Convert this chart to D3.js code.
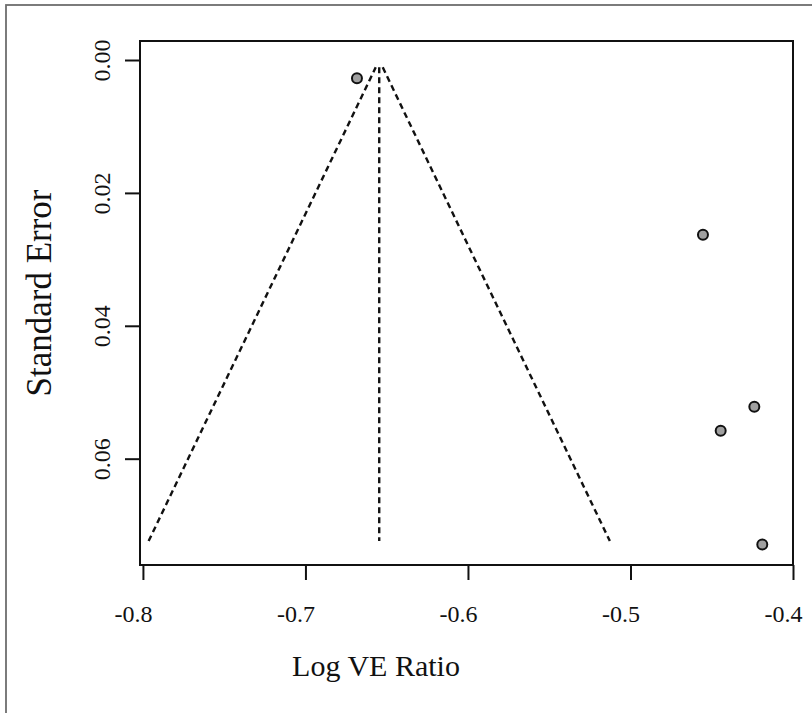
<!DOCTYPE html>
<html>
<head>
<meta charset="utf-8">
<script src="https://cdn.jsdelivr.net/npm/d3@7"></script>
<style>
    body { margin: 0; background: #fff; }
</style>
</head>
<body>
<div id="funnel-chart"></div>
<script>
// study estimates
const logVERatio = [-0.6683, -0.4554, -0.4238, -0.4445, -0.4189];
const standardError = [0.00275, 0.0263, 0.0522, 0.0558, 0.0729];

// pooled estimate and the se span the pseudo-confidence funnel covers
const pooledEstimate = -0.6546;
const funnelSE = [0.0011, 0.0724];
const zCrit = 1.96;

const xTicks = [-0.8, -0.7, -0.6, -0.5, -0.4];
const yTicks = [0, 0.02, 0.04, 0.06];

const width = 812, height = 713;
const box = { left: 140, right: 793, top: 41, bottom: 565 };
const serif = "'Liberation Serif', 'Times New Roman', serif";

const svg = d3.select("#funnel-chart")
    .append("svg")
    .attr("width", width)
    .attr("height", height);

// outer frame of the figure
svg.append("rect")
    .attr("x", 6)
    .attr("y", 5)
    .attr("width", 900)
    .attr("height", 800)
    .attr("fill", "none")
    .attr("stroke", "#6e6e6e")
    .attr("stroke-width", 1.8);

const xScale = d3.scaleLinear()
    .domain([-0.8018, -0.4])
    .range([box.left, box.right]);

const yScale = d3.scaleLinear()
    .domain([-0.00286, 0.076])
    .range([box.top, box.bottom]);

// funnel lines
const funnel = [
    [[pooledEstimate - zCrit * funnelSE[1], funnelSE[1]], [pooledEstimate - zCrit * funnelSE[0], funnelSE[0]]],
    [[pooledEstimate + zCrit * funnelSE[0], funnelSE[0]], [pooledEstimate + zCrit * funnelSE[1], funnelSE[1]]],
    [[pooledEstimate, funnelSE[0]], [pooledEstimate, funnelSE[1]]]
];

const line = d3.line()
    .x(d => xScale(d[0]))
    .y(d => yScale(d[1]));

svg.selectAll("path.funnel")
    .data(funnel)
    .enter().append("path")
    .attr("class", "funnel")
    .attr("d", line)
    .attr("fill", "none")
    .attr("stroke", "#111")
    .attr("stroke-width", 2.4)
    .attr("stroke-dasharray", "6,4");

// study points
svg.selectAll("circle")
    .data(logVERatio)
    .enter().append("circle")
    .attr("cx", d => xScale(d))
    .attr("cy", (d, i) => yScale(standardError[i]))
    .attr("r", 5)
    .attr("fill", "#a0a0a0")
    .attr("stroke", "#111")
    .attr("stroke-width", 2);

// plot box
svg.append("rect")
    .attr("x", box.left)
    .attr("y", box.top)
    .attr("width", box.right - box.left)
    .attr("height", box.bottom - box.top)
    .attr("fill", "none")
    .attr("stroke", "#111")
    .attr("stroke-width", 2);

const xAxis = svg.append("g")
    .attr("transform", `translate(0,${box.bottom})`)
    .call(d3.axisBottom(xScale)
        .tickValues(xTicks)
        .tickSize(15)
        .tickFormat(d => d.toFixed(1)));

xAxis.select(".domain").remove();
xAxis.selectAll("line").attr("stroke", "#111").attr("stroke-width", 2);
xAxis.selectAll("text")
    .attr("x", -10)
    .attr("y", 57)
    .attr("dy", null)
    .style("font-size", "24px")
    .style("font-family", serif)
    .style("fill", "#111");

const yAxis = svg.append("g")
    .attr("transform", `translate(${box.left},0)`)
    .call(d3.axisLeft(yScale)
        .tickValues(yTicks)
        .tickSize(15)
        .tickFormat(d => d.toFixed(2)));

yAxis.select(".domain").remove();
yAxis.selectAll("line").attr("stroke", "#111").attr("stroke-width", 2);
yAxis.selectAll("text")
    .attr("transform", "rotate(-90)")
    .attr("x", 0)
    .attr("y", -30)
    .attr("dy", null)
    .attr("text-anchor", "middle")
    .style("font-size", "24px")
    .style("font-family", serif)
    .style("fill", "#111");

// axis titles
svg.append("text")
    .attr("x", 376)
    .attr("y", 676)
    .attr("text-anchor", "middle")
    .style("font-size", "30px")
    .style("font-family", serif)
    .style("fill", "#111")
    .text("Log VE Ratio");

svg.append("text")
    .attr("transform", "translate(51,293) rotate(-90)")
    .attr("text-anchor", "middle")
    .style("font-size", "35px")
    .style("font-family", serif)
    .style("fill", "#111")
    .text("Standard Error");
</script>
</body>
</html>
